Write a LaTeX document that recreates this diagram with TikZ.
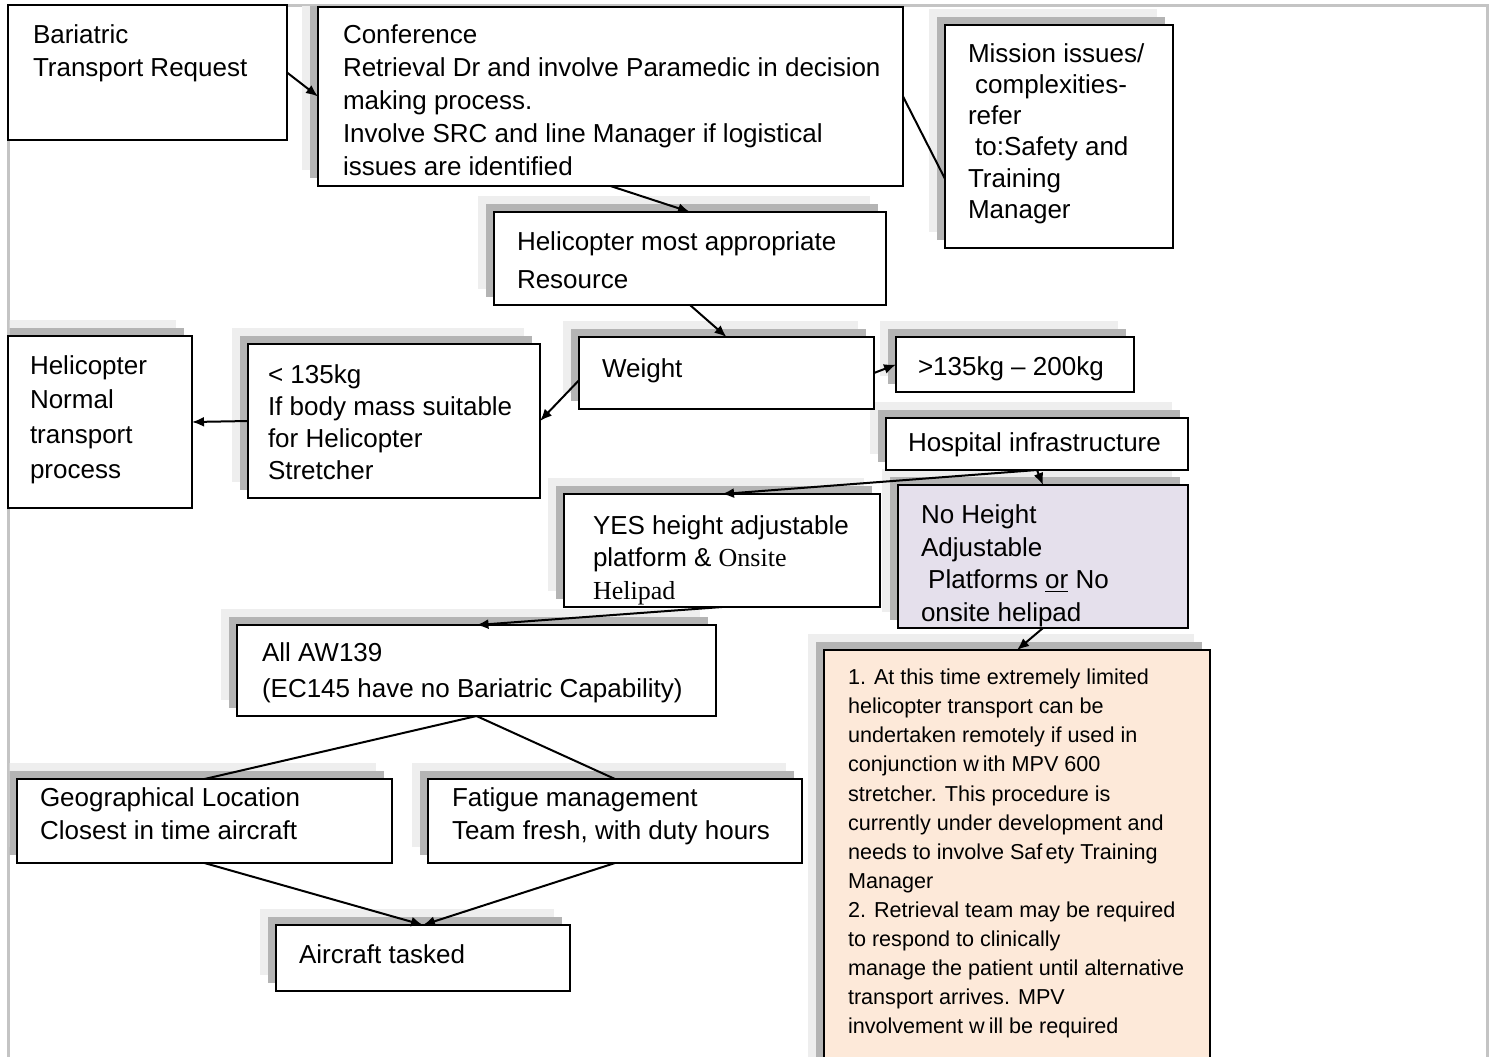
\documentclass[tikz,border=0pt]{standalone}
\usepackage{fontspec}
\setmainfont{Liberation Sans}
\newfontfamily\tnr{Liberation Serif}
\usetikzlibrary{arrows.meta,calc}
\definecolor{shdark}{HTML}{B4B4B4}
\definecolor{shlight}{HTML}{EEEEEE}
\definecolor{frameg}{HTML}{C4C4C4}
\definecolor{lav}{HTML}{E5E0EC}
\definecolor{peach}{HTML}{FDE9D9}
\newcommand\fsz[2]{\fontsize{#1}{#2}\selectfont}
\newcommand\shad[4]{%
  \fill[shlight] ({#1-16},{#2-16}) rectangle ({#3-16},{#4-16});
  \fill[shdark] ({#1-8},{#2-8}) rectangle ({#3-8},{#4-8});}
\newcommand\bx[6]{%
  \node[boxst, fill=#6, minimum width={(#4-#2)*0.5pt}, minimum height={(#5-#3)*0.5pt}, anchor=north west] (#1) at (#2,#3) {};}
\tikzset{
  boxst/.style={draw=black, line width=1pt, inner sep=0pt, outer sep=0pt},
  tx/.style={anchor=north west, inner sep=0pt, outer sep=0pt, align=left},
  arr/.style={draw=black, line width=1pt, -{Latex[length=6pt,width=5pt]}},
  ln/.style={draw=black, line width=1pt},
}
\begin{document}
\begin{tikzpicture}[x=0.5pt,y=-0.5pt]
\clip (0,0) rectangle (1491,1056);
\fill[white] (0,0) rectangle (1491,1056);
% outer frame
\draw[frameg, line width=1.5pt] (8,1060) -- (8,5) -- (1487,5) -- (1487,1060);
% shadows
\begin{scope}
  \clip (9.5,6.5) rectangle (1485.5,1060);
  \shad{318}{7}{903}{186}
  \shad{945}{25}{1173}{248}
  \shad{494}{212}{886}{305}
  \shad{579}{337}{874}{409}
  \shad{896}{337}{1134}{392}
  \shad{886}{418}{1188}{470}
  \shad{248}{344}{540}{498}
  \shad{8}{336}{192}{508}
  \shad{564}{494}{880}{607}
  \shad{898}{485}{1188}{628}
  \shad{824}{650}{1210}{1080}
  \shad{237}{625}{716}{716}
  \shad{17}{779}{392}{863}
  \shad{428}{779}{802}{863}
  \shad{276}{925}{570}{991}
\end{scope}
% boxes
\bx{bar}{8}{5}{287}{140}{white}
\bx{conf}{318}{7}{903}{186}{white}
\bx{mis}{945}{25}{1173}{248}{white}
\bx{heli}{494}{212}{886}{305}{white}
\bx{wt}{579}{337}{874}{409}{white}
\bx{gt}{896}{337}{1134}{392}{white}
\bx{hosp}{886}{418}{1188}{470}{white}
\bx{lt}{248}{344}{540}{498}{white}
\bx{norm}{8}{336}{192}{508}{white}
\bx{yes}{564}{494}{880}{607}{white}
\bx{noh}{898}{485}{1188}{628}{lav}
\bx{lim}{824}{650}{1210}{1080}{peach}
\bx{aw}{237}{625}{716}{716}{white}
\bx{geo}{17}{779}{392}{863}{white}
\bx{fat}{428}{779}{802}{863}{white}
\bx{air}{276}{925}{570}{991}{white}
% texts
\node[tx, font=\fsz{13}{16.5}] (t-bar) at (33,20.2) {\strut Bariatric\\\strut Transport Request};
\node[tx, font=\fsz{13}{16.5}] (t-conf) at (343,20.2) {\strut Conference\\\strut Retrieval Dr and involve Paramedic in decision\\\strut making process.\\\strut Involve SRC and line Manager if logistical\\\strut issues are identified};
\node[tx, font=\fsz{13}{15.6}] (t-mis) at (968,40.5) {\strut Mission issues/\\\strut\ complexities-\\\strut refer\\\strut\ to:Safety and\\\strut Training\\\strut Manager};
\node[tx, font=\fsz{13}{19}] (t-heli) at (517,223.7) {\strut Helicopter most appropriate\\\strut Resource};
\node[tx, font=\fsz{13}{16.5}] (t-wt) at (602,354.2) {\strut Weight};
\node[tx, font=\fsz{13}{16.5}] (t-gt) at (918,352.2) {\strut >135kg – 200kg};
\node[tx, font=\fsz{13}{16.5}] (t-hosp) at (908,428.2) {\strut Hospital infrastructure};
\node[tx, font=\fsz{13}{16}] (t-lt) at (268,360.9) {\strut < 135kg\\\strut If body mass suitable\\\strut for Helicopter\\\strut Stretcher};
\node[tx, font=\fsz{13}{17.3}] (t-norm) at (30,350.1) {\strut Helicopter\\\strut Normal\\\strut transport\\\strut process};
\begin{scope}
  \clip (yes.north west) rectangle (yes.south east);
  \node[tx, font=\fsz{13}{16.25}] (t-yes) at (593,511.5) {\strut YES height adjustable\\\strut platform \& {\tnr Onsite}\\\strut {\tnr Helipad}};
\end{scope}
\begin{scope}
  \clip (noh.north west) rectangle (noh.south east);
  \node[tx, font=\fsz{13}{16.35}] (t-noh) at (921,500.4) {\strut No Height\\\strut Adjustable\\\strut\ Platforms \underline{or} No\\\strut onsite helipad};
\end{scope}
\node[tx, font=\fsz{10.8}{14.55}] (t-lim) at (848,664.3) {\strut 1. At this time extremely limited\\\strut helicopter transport can be\\\strut undertaken remotely if used in\\\strut conjunction w\kern2pt ith MPV 600\\\strut stretcher. This procedure is\\\strut currently under development and\\\strut needs to involve Saf\kern1.5pt ety Training\\\strut Manager\\\strut 2. Retrieval team may be required\\\strut to respond to clinically\\\strut manage the patient until alternative\\\strut transport arrives. MPV\\\strut involvement w\kern2pt ill be required};
\node[tx, font=\fsz{13}{18}] (t-aw) at (262,636.1) {\strut All AW139\\\strut (EC145 have no Bariatric Capability)};
\node[tx, font=\fsz{13}{16.5}] (t-geo) at (40,783.2) {\strut Geographical Location\\\strut Closest in time aircraft};
\node[tx, font=\fsz{13}{16.5}] (t-fat) at (452,783.2) {\strut Fatigue management\\\strut Team fresh, with duty hours};
\node[tx, font=\fsz{13}{16.5}] (t-air) at (299,940.2) {\strut Aircraft tasked};
% connectors
\draw[arr] (bar.east) -- (conf.west);
\draw[arr] (conf.south) -- (heli.north);
\draw[ln] (conf.east) -- ($(mis.north west)!0.69!(mis.south west)$);
\draw[arr] (heli.south) -- (wt.north);
\draw[arr] ($(wt.north west)!0.6!(wt.south west)$) -- (lt.east);
\draw[arr] (wt.east) -- (gt.west);
\draw[arr] (lt.west) -- (norm.east);
\draw[arr] (hosp.south) -- (yes.north);
\draw[arr] (hosp.south) -- (noh.north);
\draw[arr] (yes.south) -- (aw.north);
\draw[arr] (noh.south) -- (lim.north);
\draw[ln] (aw.south) -- (geo.north);
\draw[ln] (aw.south) -- (fat.north);
\draw[arr] (geo.south) -- (air.north);
\draw[arr] (fat.south) -- (air.north);
\end{tikzpicture}
\end{document}
